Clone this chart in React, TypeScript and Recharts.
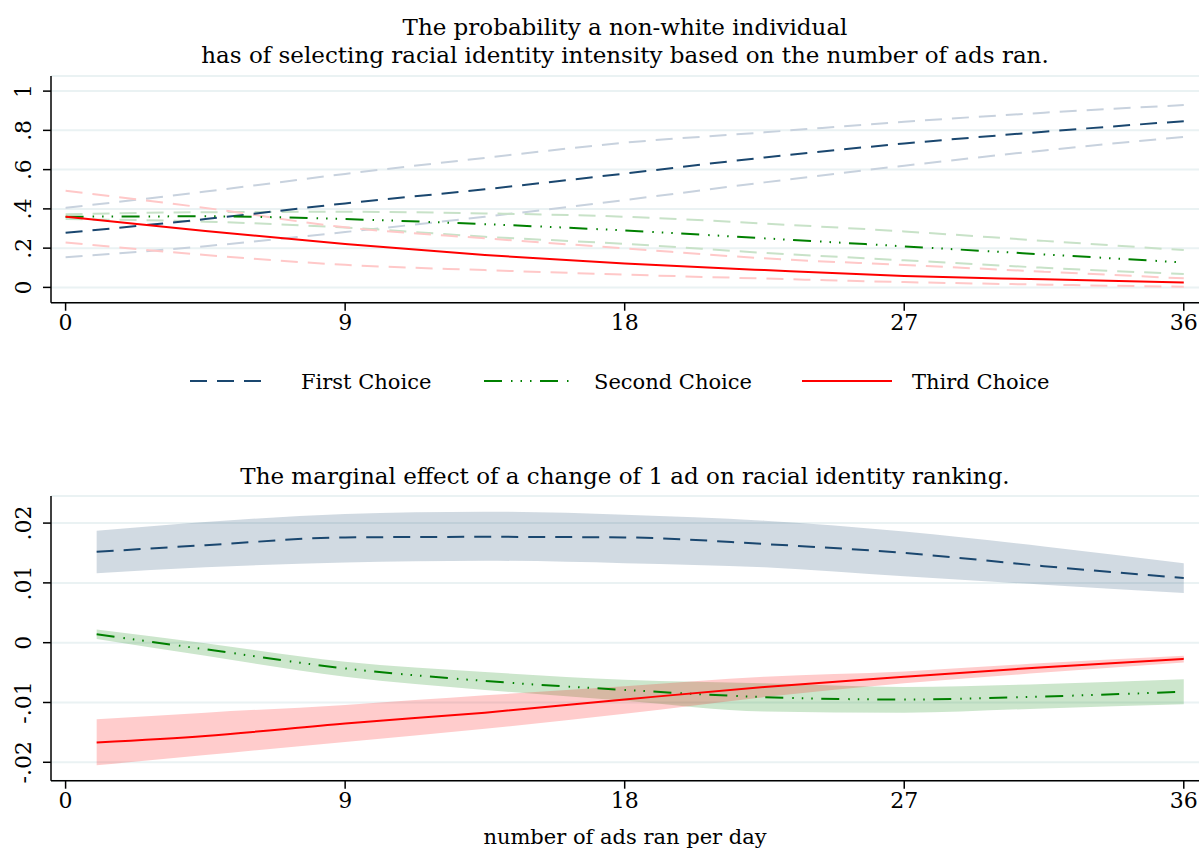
import React from "react";
import { ComposedChart, Line, Area, XAxis, YAxis, CartesianGrid } from "recharts";

const FONT = '"DejaVu Serif", serif';

// x values (ads per day)
const ads = [0, 4.5, 9, 13.5, 18, 22.5, 27, 31.5, 36];
const adsME = [1, 4.5, 9, 13.5, 18, 22.5, 27, 31.5, 36];
const xTicks = [0, 9, 18, 27, 36];

// top panel: predicted probabilities with CI bounds
const firstProb = [0.278, 0.348, 0.428, 0.5, 0.58, 0.662, 0.733, 0.793, 0.847];
const firstHi = [0.405, 0.488, 0.578, 0.66, 0.737, 0.79, 0.844, 0.89, 0.929];
const firstLo = [0.153, 0.21, 0.282, 0.36, 0.445, 0.535, 0.62, 0.698, 0.767];
const secondProb = [0.36, 0.362, 0.348, 0.322, 0.29, 0.25, 0.209, 0.168, 0.127];
const secondHi = [0.372, 0.383, 0.385, 0.377, 0.36, 0.325, 0.285, 0.237, 0.19];
const secondLo = [0.348, 0.335, 0.305, 0.258, 0.222, 0.176, 0.138, 0.1, 0.068];
const thirdProb = [0.36, 0.287, 0.221, 0.165, 0.122, 0.088, 0.058, 0.041, 0.025];
const thirdHi = [0.492, 0.405, 0.306, 0.25, 0.199, 0.148, 0.114, 0.08, 0.046];
const thirdLo = [0.229, 0.165, 0.115, 0.088, 0.065, 0.045, 0.027, 0.014, 0.003];
const probTicks = [0, 0.2, 0.4, 0.6, 0.8, 1];

// bottom panel: marginal effects with CI bands
const firstME = [0.0152, 0.0163, 0.0176, 0.0177, 0.0176, 0.0165, 0.015, 0.0128, 0.0108];
const firstMEHi = [0.0187, 0.0202, 0.0215, 0.0219, 0.0214, 0.0204, 0.0186, 0.0161, 0.0133];
const firstMELo = [0.0116, 0.0126, 0.0134, 0.0137, 0.0133, 0.0126, 0.0111, 0.0097, 0.0083];
const secondME = [0.0014, -0.0011, -0.0043, -0.0064, -0.0079, -0.0091, -0.0095, -0.009, -0.0082];
const secondMEHi = [0.0022, -0.0001, -0.0032, -0.0049, -0.0062, -0.0068, -0.0074, -0.0069, -0.0061];
const secondMELo = [0.0006, -0.0022, -0.0057, -0.0079, -0.0097, -0.0115, -0.0117, -0.011, -0.0103];
const thirdME = [-0.0167, -0.0156, -0.0135, -0.0117, -0.0095, -0.0074, -0.0057, -0.0041, -0.0027];
const thirdMEHi = [-0.0128, -0.0117, -0.0104, -0.0088, -0.0073, -0.0057, -0.0048, -0.0034, -0.0022];
const thirdMELo = [-0.0205, -0.0188, -0.0166, -0.0144, -0.0119, -0.0091, -0.0068, -0.005, -0.0033];
const meTicks = [-0.02, -0.01, 0, 0.01, 0.02];

const NAVY = "#1a476f";
const GREEN = "#008000";
const RED = "#ff0000";
const DASH = "17 10";
const DASH3DOT = "18 9 1.5 8 1.5 8 1.5 8.5";

const probData = ads.map((x, i) => ({
  x,
  first: firstProb[i],
  firstHi: firstHi[i],
  firstLo: firstLo[i],
  second: secondProb[i],
  secondHi: secondHi[i],
  secondLo: secondLo[i],
  third: thirdProb[i],
  thirdHi: thirdHi[i],
  thirdLo: thirdLo[i],
}));

const meData = adsME.map((x, i) => ({
  x,
  first: firstME[i],
  firstBand: [firstMELo[i], firstMEHi[i]],
  second: secondME[i],
  secondBand: [secondMELo[i], secondMEHi[i]],
  third: thirdME[i],
  thirdBand: [thirdMELo[i], thirdMEHi[i]],
}));

const fmt = (v: number) => (v === 0 ? "0" : String(v).replace("0.", "."));

function YTick(props: any) {
  const { y, payload } = props;
  return (
    <text
      transform={`translate(31, ${y}) rotate(-90)`}
      textAnchor="middle"
      fontSize={22}
      fontFamily={FONT}
      fill="#000"
    >
      {fmt(payload.value)}
    </text>
  );
}

const axisStyle = { stroke: "#000", strokeWidth: 1.5 };
const tickFont = { fontSize: 22, fontFamily: FONT, fill: "#000" };

const legendItems = [
  { name: "First Choice", color: NAVY, dash: DASH, x: 190, w: 76, tx: 301 },
  { name: "Second Choice", color: GREEN, dash: DASH3DOT, x: 484, w: 88, tx: 594 },
  { name: "Third Choice", color: RED, dash: undefined, x: 802, w: 90, tx: 912 },
];

function Legend() {
  return (
    <div style={{ position: "absolute", left: 0, top: 366, width: 1200, height: 30 }}>
      {legendItems.map((it) => (
        <React.Fragment key={it.name}>
          <svg
            width={it.w}
            height={30}
            style={{ position: "absolute", left: it.x, top: 0 }}
          >
            <line
              x1={0}
              x2={it.w}
              y1={15}
              y2={15}
              stroke={it.color}
              strokeWidth={2}
              strokeDasharray={it.dash}
            />
          </svg>
          <div
            style={{
              position: "absolute",
              left: it.tx,
              top: 1,
              lineHeight: "30px",
              fontSize: 21,
              fontFamily: FONT,
              whiteSpace: "nowrap",
            }}
          >
            {it.name}
          </div>
        </React.Fragment>
      ))}
    </div>
  );
}

const titleStyle: React.CSSProperties = {
  position: "absolute",
  left: 51,
  width: 1148,
  textAlign: "center",
  fontSize: 23,
  fontFamily: FONT,
  lineHeight: "28px",
  color: "#000",
  whiteSpace: "nowrap",
};

export default function App() {
  return (
    <div style={{ position: "absolute", left: 0, top: 0, width: 1200, height: 850, background: "#fff" }}>
      <div style={{ ...titleStyle, top: 13 }}>
        The probability a non-white individual
        <br />
        has of selecting racial identity intensity based on the number of ads ran.
      </div>

      <div style={{ position: "absolute", left: 0, top: 0 }}>
        <ComposedChart
          width={1200}
          height={340}
          data={probData}
          margin={{ top: 76, right: 1, bottom: 0, left: 0 }}
        >
          <CartesianGrid vertical={false} stroke="#eaf2f3" strokeWidth={2} />
          <XAxis
            dataKey="x"
            type="number"
            domain={[-0.47, 36.49]}
            ticks={xTicks}
            interval={0}
            allowDataOverflow
            height={37.3}
            tickSize={8}
            tickMargin={4}
            axisLine={axisStyle}
            tickLine={axisStyle}
            tick={tickFont}
          />
          <YAxis
            type="number"
            domain={[-0.078, 1.077]}
            ticks={probTicks}
            interval={0}
            allowDataOverflow
            width={51}
            tickSize={8}
            axisLine={axisStyle}
            tickLine={axisStyle}
            tick={<YTick />}
          />
          <Line dataKey="firstHi" type="monotone" stroke="#c8d2de" strokeWidth={2} strokeDasharray={DASH} dot={false} isAnimationActive={false} />
          <Line dataKey="firstLo" type="monotone" stroke="#c8d2de" strokeWidth={2} strokeDasharray={DASH} dot={false} isAnimationActive={false} />
          <Line dataKey="secondHi" type="monotone" stroke="#c8e2c8" strokeWidth={2} strokeDasharray={DASH} dot={false} isAnimationActive={false} />
          <Line dataKey="secondLo" type="monotone" stroke="#c8e2c8" strokeWidth={2} strokeDasharray={DASH} dot={false} isAnimationActive={false} />
          <Line dataKey="thirdHi" type="monotone" stroke="#ffc8c8" strokeWidth={2} strokeDasharray={DASH} dot={false} isAnimationActive={false} />
          <Line dataKey="thirdLo" type="monotone" stroke="#ffc8c8" strokeWidth={2} strokeDasharray={DASH} dot={false} isAnimationActive={false} />
          <Line dataKey="first" type="monotone" stroke={NAVY} strokeWidth={2} strokeDasharray={DASH} dot={false} isAnimationActive={false} />
          <Line dataKey="second" type="monotone" stroke={GREEN} strokeWidth={2} strokeDasharray={DASH3DOT} dot={false} isAnimationActive={false} />
          <Line dataKey="third" type="monotone" stroke={RED} strokeWidth={2} dot={false} isAnimationActive={false} />
        </ComposedChart>
      </div>

      <Legend />

      <div style={{ ...titleStyle, top: 462 }}>
        The marginal effect of a change of 1 ad on racial identity ranking.
      </div>

      <div style={{ position: "absolute", left: 0, top: 420 }}>
        <ComposedChart
          width={1200}
          height={430}
          data={meData}
          margin={{ top: 76, right: 1, bottom: 0, left: 0 }}
        >
          <CartesianGrid vertical={false} stroke="#eaf2f3" strokeWidth={2} />
          <XAxis
            dataKey="x"
            type="number"
            domain={[-0.47, 36.49]}
            ticks={xTicks}
            interval={0}
            allowDataOverflow
            height={69.3}
            tickSize={8}
            tickMargin={4}
            axisLine={axisStyle}
            tickLine={axisStyle}
            tick={tickFont}
          />
          <YAxis
            type="number"
            domain={[-0.02308, 0.02453]}
            ticks={meTicks}
            interval={0}
            allowDataOverflow
            width={51}
            tickSize={8}
            axisLine={axisStyle}
            tickLine={axisStyle}
            tick={<YTick />}
          />
          <Area dataKey="firstBand" type="monotone" stroke="none" fill={NAVY} fillOpacity={0.2} isAnimationActive={false} />
          <Area dataKey="secondBand" type="monotone" stroke="none" fill={GREEN} fillOpacity={0.2} isAnimationActive={false} />
          <Area dataKey="thirdBand" type="monotone" stroke="none" fill={RED} fillOpacity={0.2} isAnimationActive={false} />
          <Line dataKey="first" type="monotone" stroke={NAVY} strokeWidth={2} strokeDasharray={DASH} dot={false} isAnimationActive={false} />
          <Line dataKey="second" type="monotone" stroke={GREEN} strokeWidth={2} strokeDasharray={DASH3DOT} dot={false} isAnimationActive={false} />
          <Line dataKey="third" type="monotone" stroke={RED} strokeWidth={2} dot={false} isAnimationActive={false} />
        </ComposedChart>
      </div>

      <div style={{ ...titleStyle, top: 823, fontSize: 21 }}>number of ads ran per day</div>
    </div>
  );
}
